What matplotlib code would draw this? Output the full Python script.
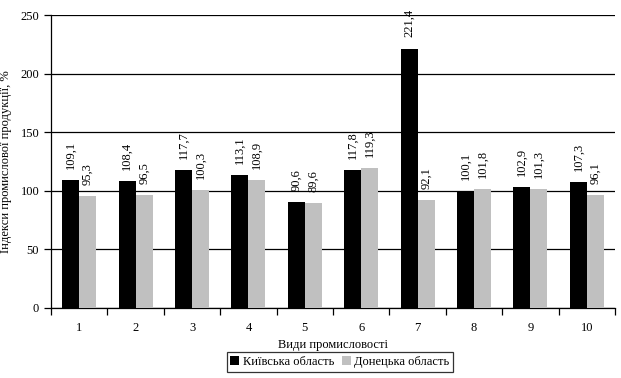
import numpy as np
import matplotlib.pyplot as plt

plt.rcParams['font.family'] = ['Liberation Serif', 'DejaVu Serif']

categories = ['1', '2', '3', '4', '5', '6', '7', '8', '9', '10']
kyiv = [109.1, 108.4, 117.7, 113.1, 90.6, 117.8, 221.4, 100.1, 102.9, 107.3]
donetsk = [95.3, 96.5, 100.3, 108.9, 89.6, 119.3, 92.1, 101.8, 101.3, 96.1]
series_names = ['Київська область', 'Донецька область']

fig = plt.figure(figsize=(6.21, 3.78), dpi=100)
ax = fig.add_axes([51 / 621, 1 - 308 / 378, (615 - 51) / 621, (308 - 15) / 378])

x = np.arange(len(categories))
w = 0.3
b1 = ax.bar(x - w / 2, kyiv, w, color='black', label=series_names[0], zorder=3)
b2 = ax.bar(x + w / 2, donetsk, w, color='#c0c0c0', label=series_names[1], zorder=3)

for bars, vals in ((b1, kyiv), (b2, donetsk)):
    for r, v in zip(bars, vals):
        ax.annotate(f'{v:.1f}'.replace('.', ','),
                    (r.get_x() + r.get_width() / 2, r.get_height()),
                    xytext=(0, 8), textcoords='offset points',
                    rotation=90, ha='center', va='bottom', fontsize=9)

ax.set_xlim(-0.5, len(categories) - 0.5)
ax.set_ylim(0, 250)
ax.set_yticks(range(0, 251, 50))
ax.yaxis.grid(True, color='black', linewidth=0.9, zorder=0)
ax.set_axisbelow(True)

ax.set_xticks(x)
ax.set_xticklabels(categories)
ax.set_xticks(np.arange(-0.5, len(categories)), minor=True)
ax.tick_params(axis='x', which='major', length=0, labelsize=9, pad=10)
ax.tick_params(axis='x', which='minor', length=5, width=0.9, direction='out')
ax.tick_params(axis='y', length=5, width=0.9, direction='out', labelsize=9)

for s in ('top', 'right'):
    ax.spines[s].set_visible(False)
for s in ('left', 'bottom'):
    ax.spines[s].set_linewidth(0.9)

ax.set_xlabel('Види промисловості', fontsize=9, labelpad=4)
ax.set_ylabel('Індекси промислової продукції, %', fontsize=9, labelpad=6)

leg = fig.legend(loc='center', bbox_to_anchor=(340 / 621, 1 - 362 / 378), ncol=2,
                 fontsize=9, frameon=True, fancybox=False, edgecolor='black',
                 handlelength=0.7, handleheight=0.7, handletextpad=0.3,
                 columnspacing=0.6, borderpad=0.3)
leg.get_frame().set_linewidth(0.9)

plt.savefig('out.png', dpi=100)
